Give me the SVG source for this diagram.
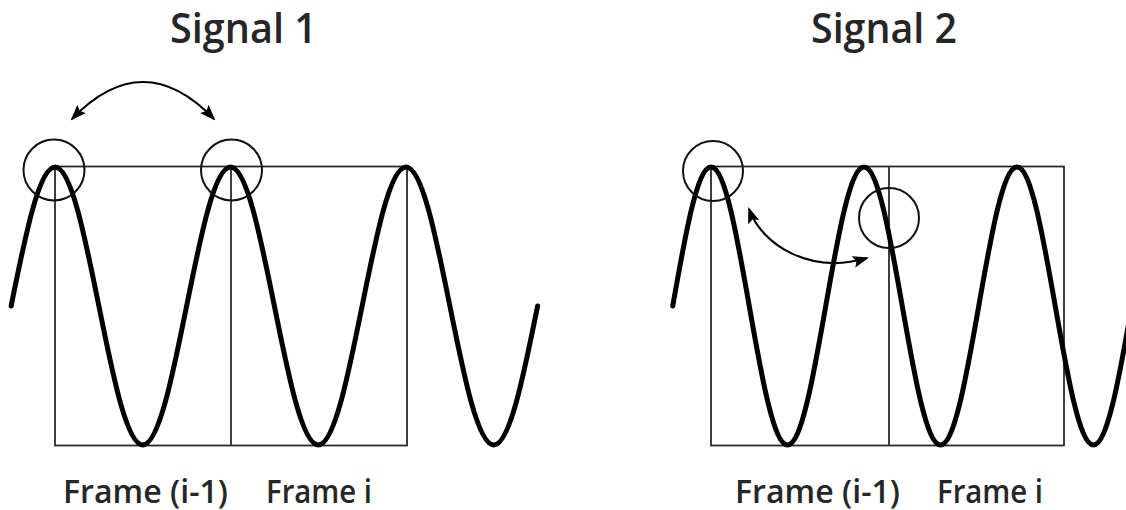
<svg xmlns="http://www.w3.org/2000/svg" width="1126" height="510" viewBox="0 0 1126 510">
<style>
.title{font-family:"Open Sans","Liberation Sans",sans-serif;font-size:42px;font-weight:600;fill:#262626}
.lbl{font-family:"Open Sans","Liberation Sans",sans-serif;font-size:32px;font-weight:600;fill:#262626}
.frame{fill:none;stroke:#2a2a2a;stroke-width:1.8}
.wave{fill:none;stroke:#000;stroke-width:5;stroke-linecap:round;stroke-linejoin:round}
.ring{fill:none;stroke:#111;stroke-width:2}
.conn{fill:none;stroke:#000;stroke-width:2.2}
</style>
<defs>
<marker id="ah" markerUnits="userSpaceOnUse" viewBox="0 0 16 12" markerWidth="16" markerHeight="12" refX="14" refY="6" orient="auto-start-reverse">
<path d="M0,0 L16,6 L0,12 L3,6 Z" fill="#000"/>
</marker>
</defs>
<rect width="1126" height="510" fill="#fff"/>

<g id="title1"><text class="title" x="170" y="43" textLength="147" lengthAdjust="spacingAndGlyphs">Signal 1</text></g>
<g id="title2"><text class="title" x="811" y="43" textLength="146" lengthAdjust="spacingAndGlyphs">Signal 2</text></g>

<g id="signal1">
<rect class="frame" x="55" y="166.5" width="352" height="279"/>
<line class="frame" x1="231" y1="166.5" x2="231" y2="445.5"/>
<path class="wave" d="M11.125,306
c14.31,-71.21 27.995,-139 43.875,-139 c15.88,0 29.565,67.79 43.875,139 c14.31,71.21 27.995,139 43.875,139 c15.88,0 29.565,-67.79 43.875,-139
c14.31,-71.21 27.995,-139 43.875,-139 c15.88,0 29.565,67.79 43.875,139 c14.31,71.21 27.995,139 43.875,139 c15.88,0 29.565,-67.79 43.875,-139
c14.31,-71.21 27.995,-139 43.875,-139 c15.88,0 29.565,67.79 43.875,139 c14.31,71.21 27.995,139 43.875,139 c15.88,0 29.565,-67.79 43.875,-139"/>
<circle class="ring" cx="54" cy="170" r="30.5"/>
<circle class="ring" cx="231.5" cy="170" r="30.5"/>
</g>

<g id="signal2">
<rect class="frame" x="711" y="166.5" width="353" height="279"/>
<line class="frame" x1="889" y1="166.5" x2="889" y2="445.5"/>
<path class="wave" d="M672.75,306
c12.475,-71.21 24.406,-139 38.25,-139 c13.844,0 25.775,67.79 38.25,139 c12.475,71.21 24.406,139 38.25,139 c13.844,0 25.775,-67.79 38.25,-139
c12.475,-71.21 24.406,-139 38.25,-139 c13.844,0 25.775,67.79 38.25,139 c12.475,71.21 24.406,139 38.25,139 c13.844,0 25.775,-67.79 38.25,-139
c12.475,-71.21 24.406,-139 38.25,-139 c13.844,0 25.775,67.79 38.25,139 c12.475,71.21 24.406,139 38.25,139 c13.844,0 25.775,-67.79 38.25,-139"/>
<circle class="ring" cx="713" cy="171" r="30"/>
<circle class="ring" cx="889" cy="218" r="30"/>
</g>

<g id="labels1">
<text class="lbl" x="63" y="503" textLength="165" lengthAdjust="spacingAndGlyphs">Frame (i-1)</text>
<text class="lbl" x="266" y="503" textLength="106" lengthAdjust="spacingAndGlyphs">Frame i</text>
</g>
<g id="labels2">
<text class="lbl" x="735" y="503" textLength="165" lengthAdjust="spacingAndGlyphs">Frame (i-1)</text>
<text class="lbl" x="937" y="503" textLength="106" lengthAdjust="spacingAndGlyphs">Frame i</text>
</g>

<g id="connectors">
<path class="conn" d="M72,119 Q143,45 214,119" marker-start="url(#ah)" marker-end="url(#ah)"/>
<path class="conn" d="M749,209 C762,245 810,275 867,258" marker-start="url(#ah)" marker-end="url(#ah)"/>
</g>
</svg>
